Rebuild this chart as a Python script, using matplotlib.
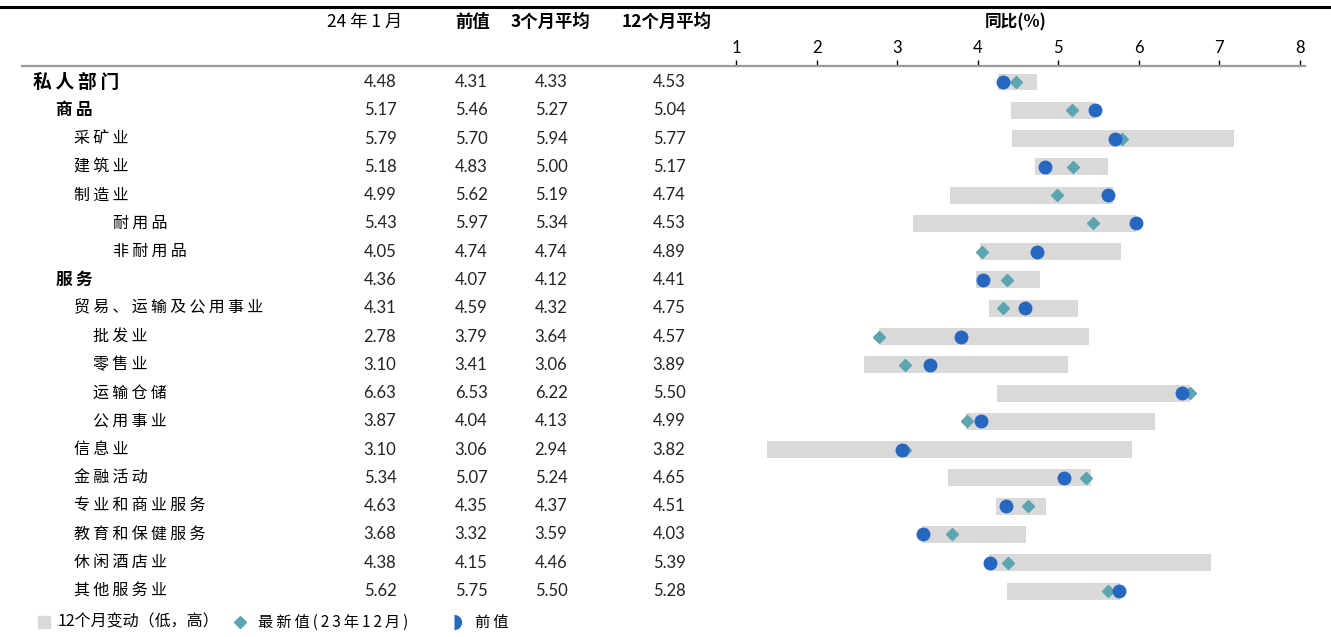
import matplotlib
matplotlib.use("Agg")
import matplotlib.pyplot as plt
from matplotlib import transforms
from matplotlib.lines import Line2D
from matplotlib.patches import Rectangle

plt.rcParams['font.family'] = ['Noto Sans CJK SC', 'DejaVu Sans']

# ---------------- data ----------------
categories = ["私人部门", "商品", "采矿业", "建筑业", "制造业", "耐用品", "非耐用品",
              "服务", "贸易、运输及公用事业", "批发业", "零售业", "运输仓储", "公用事业",
              "信息业", "金融活动", "专业和商业服务", "教育和保健服务", "休闲酒店业", "其他服务业"]
levels = [0, 1, 2, 2, 2, 4, 4, 1, 2, 3, 3, 3, 3, 2, 2, 2, 2, 2, 2]
latest = [4.48, 5.17, 5.79, 5.18, 4.99, 5.43, 4.05, 4.36, 4.31, 2.78, 3.10, 6.63, 3.87,
          3.10, 5.34, 4.63, 3.68, 4.38, 5.62]
previous = [4.31, 5.46, 5.70, 4.83, 5.62, 5.97, 4.74, 4.07, 4.59, 3.79, 3.41, 6.53, 4.04,
            3.06, 5.07, 4.35, 3.32, 4.15, 5.75]
avg3 = [4.33, 5.27, 5.94, 5.00, 5.19, 5.34, 4.74, 4.12, 4.32, 3.64, 3.06, 6.22, 4.13,
        2.94, 5.24, 4.37, 3.59, 4.46, 5.50]
avg12 = [4.53, 5.04, 5.77, 5.17, 4.74, 4.53, 4.89, 4.41, 4.75, 4.57, 3.89, 5.50, 4.99,
         3.82, 4.65, 4.51, 4.03, 5.39, 5.28]
low12 = [4.25, 4.41, 4.43, 4.71, 3.66, 3.20, 4.03, 3.98, 4.14, 2.78, 2.59, 4.24, 3.86,
         1.38, 3.63, 4.23, 3.31, 4.14, 4.36]
high12 = [4.73, 5.46, 7.18, 5.62, 5.68, 5.97, 5.78, 4.77, 5.24, 5.38, 5.12, 6.63, 6.20,
          5.92, 5.41, 4.85, 4.60, 6.89, 5.76]
col_headers = ["24年1月", "前值", "3个月平均", "12个月平均"]
axis_title = "同比(%)"
xticks = [1, 2, 3, 4, 5, 6, 7, 8]
legend_labels = ["12个月变动（低，高）", "最新值(23年12月)", "前值"]

# ---------------- layout ----------------
W, H = 1331, 637
fig = plt.figure(figsize=(W / 100, H / 100), dpi=100)

def fx(px):
    return px / W

def fy(py):
    return 1 - py / H

row0, rowstep = 82, 28.28
ax_top, ax_bot = 66, 610
ax = fig.add_axes([fx(736), fy(ax_bot), fx(1300) - fx(736), fy(ax_top) - fy(ax_bot)])
ax.set_xlim(1, 8)
ax.set_ylim((ax_bot - row0) / rowstep, (ax_top - row0) / rowstep)
for s in ax.spines.values():
    s.set_visible(False)
ax.set_yticks([])
ax.set_xticks(xticks)
ax.xaxis.tick_top()
ax.tick_params(axis='x', top=True, bottom=False, labeltop=True, labelbottom=False,
               direction='out', length=4.5, width=1.0, color='black', pad=3,
               labelsize=12)
for lab in ax.get_xticklabels():
    lab.set_fontfamily(['Lato', 'DejaVu Sans'])

ys = list(range(len(categories)))
ax.barh(ys, [h - l for l, h in zip(low12, high12)], left=low12, height=0.6,
        color='#d9d9d9', zorder=1)
ax.plot(latest, ys, linestyle='none', marker='D', markersize=6.5,
        color='#5aa5b0', zorder=3)
ax.plot(previous, ys, linestyle='none', marker='o', markersize=9,
        color='#2667c0', zorder=4)

# lines
fig.add_artist(Line2D([0, 1], [fy(7), fy(7)], color='black', lw=2.2,
                      transform=fig.transFigure))
fig.add_artist(Line2D([fx(22), fx(1305)], [fy(66), fy(66)], color='#9a9a9a', lw=1.6,
                      transform=fig.transFigure, zorder=5))

# table text
tr = transforms.blended_transform_factory(fig.transFigure, ax.transData)
indent = {0: 33, 1: 56, 2: 74, 3: 93, 4: 113}

def spaced(s, sep="\u2009"):
    return sep.join(s)

for i, name in enumerate(categories):
    lv = levels[i]
    if lv == 0:
        fs, fw = 13.5, 'bold'
    elif lv == 1:
        fs, fw = 12, 'bold'
    else:
        fs, fw = 11.5, 'normal'
    fig.text(fx(indent[lv]), i, spaced(name), transform=tr, ha='left', va='center',
             fontsize=fs, fontweight=fw, color='black')

col_x = [380, 471, 551, 669]
for vals, cx in zip([latest, previous, avg3, avg12], col_x):
    for i, v in enumerate(vals):
        fig.text(fx(cx), i, f"{v:.2f}", transform=tr, ha='center', va='center',
                 fontsize=12, family=['Lato', 'DejaVu Sans'], color='#222222')

hdr_x = [365, 473, 550, 667]
hdr_text = ["24 年 1 月", col_headers[1], col_headers[2], col_headers[3]]
for h, cx in zip(hdr_text, hdr_x):
    fig.text(fx(cx), fy(22), h, ha='center', va='center', fontsize=12.5,
             fontweight='bold' if h != hdr_text[0] else 'normal')
fig.text(fx(1016), fy(22), axis_title, ha='center', va='center', fontsize=12,
         fontweight='bold')

# legend
ly = fy(622)
fig.add_artist(Rectangle((fx(38), fy(628)), fx(12), 12 / H, color='#d9d9d9',
                         transform=fig.transFigure))
fig.text(fx(58), ly, legend_labels[0], ha='left', va='center', fontsize=11.5)
fig.add_artist(Line2D([fx(240)], [ly], marker='D', markersize=6.5, color='#5aa5b0',
                      linestyle='none', transform=fig.transFigure))
fig.text(fx(258), ly, spaced(legend_labels[1]), ha='left', va='center', fontsize=11)
fig.add_artist(Line2D([fx(454)], [ly], marker='o', markersize=11, color='#2667c0',
                      fillstyle='right', markerfacecoloralt='none',
                      markeredgewidth=0, linestyle='none', transform=fig.transFigure))
fig.text(fx(475), ly, spaced(legend_labels[2]), ha='left', va='center', fontsize=11)

fig.savefig("out.png", dpi=100)
